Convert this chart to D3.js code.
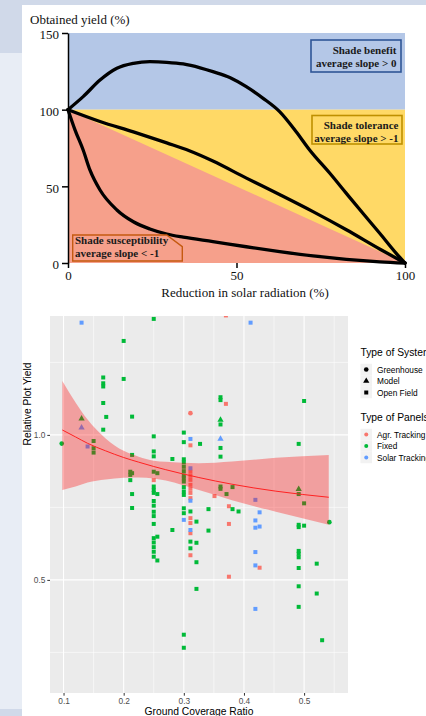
<!DOCTYPE html>
<html>
<head>
<meta charset="utf-8">
<script src="https://cdn.jsdelivr.net/npm/d3@7"></script>
<style>
  body { margin: 0; background: #fff; }
  svg { display: block; }
</style>
</head>
<body>
<script>
// ---- top figure: yield vs. reduction in solar radiation ----
var yTicksTop = [0, 50, 100, 150];
var xTicksTop = [0, 50, 100];
var bandLimits = [0, 100, 150];          // yellow 0-100, blue 100-150
var redTriangle = [[0, 100], [100, 0], [0, 0]];

var benefitX = [0, 4.5, 9.5, 14.5, 19.4, 24.3, 29.3, 34.2, 39.2, 43, 48, 52.9, 57.9, 62.8, 67.7, 71.7, 77.7, 82.6, 87.5, 92.5, 97.4, 100];
var benefitY = [100, 108.5, 119.3, 127, 130.2, 131.3, 130.9, 129.8, 127.3, 124.8, 121, 115, 107.4, 98.7, 85.6, 73.7, 58.5, 45.4, 32.4, 19.4, 6.3, 0];
var toleranceX = [0, 9.5, 19.4, 29.3, 36, 43, 52.8, 62.9, 72.7, 82.6, 92.6, 100];
var toleranceY = [100, 92.3, 85.5, 78.3, 73.2, 66.5, 55.5, 44.5, 33.5, 21.7, 9, 0];
var suscepX = [0, 2.1, 4.5, 6.5, 9.5, 14.5, 19.4, 24.3, 29.3, 34.2, 43, 52.9, 62.8, 72.7, 82.6, 92.5, 100];
var suscepY = [100, 86.7, 73.7, 60.7, 47.6, 34.6, 26.9, 22.2, 18.9, 16.8, 13.9, 10.6, 7.4, 4.6, 2.4, 0.8, 0];

// ---- bottom figure: relative plot yield vs ground coverage ratio ----
var xTicksGcr = [0.1, 0.2, 0.3, 0.4, 0.5];
var yTicksYield = [0.5, 1.0];
var systemTypes = ["Greenhouse", "Model", "Open Field"];
var panelTypes = ["Agr. Tracking", "Fixed", "Solar Tracking"];
var panelColors = ["#F8766D", "#00BA38", "#619CFF"];

// [ground coverage ratio, relative yield, system (G/M/O)]
var agrPts = [[0.311,1.075,"G"],[0.370,1.412,"O"],[0.370,1.107,"O"],[0.311,0.964,"O"],[0.250,0.844,"O"],
  [0.311,0.873,"O"],[0.311,0.859,"O"],[0.311,0.845,"O"],[0.311,0.828,"O"],[0.311,0.814,"O"],[0.311,0.800,"O"],
  [0.311,0.782,"O"],[0.351,0.789,"O"],[0.375,0.754,"O"],[0.311,0.713,"O"],[0.311,0.696,"O"],[0.375,0.693,"O"],
  [0.311,0.661,"O"],[0.311,0.585,"O"],[0.426,0.542,"O"],[0.375,0.511,"O"]];
var fixedPts = [[0.097,0.970,"G"],[0.130,1.056,"M"],[0.150,0.979,"O"],[0.150,0.954,"O"],[0.150,0.939,"O"],
  [0.166,1.198,"O"],[0.166,1.178,"O"],[0.166,1.167,"O"],[0.166,1.110,"O"],[0.171,1.062,"O"],[0.166,1.018,"O"],
  [0.200,1.324,"O"],[0.200,1.193,"O"],[0.214,1.063,"O"],[0.214,0.931,"O"],[0.211,0.873,"O"],[0.211,0.862,"O"],
  [0.214,0.868,"O"],[0.211,0.844,"O"],[0.214,0.796,"O"],[0.214,0.748,"O"],[0.250,1.400,"O"],[0.250,0.995,"O"],
  [0.250,0.943,"O"],[0.250,0.926,"O"],[0.281,0.917,"O"],[0.250,0.873,"O"],[0.256,0.868,"O"],[0.250,0.822,"O"],
  [0.250,0.810,"O"],[0.250,0.800,"O"],[0.256,0.796,"O"],[0.250,0.772,"O"],[0.250,0.756,"O"],[0.250,0.735,"O"],
  [0.250,0.720,"O"],[0.250,0.693,"O"],[0.281,0.672,"O"],[0.250,0.644,"O"],[0.256,0.649,"O"],[0.250,0.629,"O"],
  [0.250,0.613,"O"],[0.250,0.597,"O"],[0.250,0.580,"O"],[0.256,0.567,"O"],[0.300,1.008,"O"],[0.300,0.975,"O"],
  [0.327,0.969,"O"],[0.300,0.916,"O"],[0.300,0.905,"O"],[0.300,0.890,"O"],[0.300,0.875,"O"],[0.300,0.860,"O"],
  [0.300,0.850,"O"],[0.300,0.839,"O"],[0.300,0.820,"O"],[0.300,0.805,"O"],[0.300,0.793,"O"],[0.300,0.747,"O"],
  [0.300,0.730,"O"],[0.311,0.736,"O"],[0.341,0.744,"O"],[0.321,0.701,"O"],[0.341,0.670,"O"],[0.311,0.632,"O"],
  [0.321,0.628,"O"],[0.311,0.609,"O"],[0.321,0.561,"O"],[0.321,0.469,"O"],[0.300,0.311,"O"],[0.300,0.266,"O"],
  [0.361,1.130,"O"],[0.361,1.120,"O"],[0.361,1.052,"M"],[0.361,1.036,"O"],[0.361,0.955,"O"],[0.361,0.925,"O"],
  [0.361,0.822,"O"],[0.361,0.814,"O"],[0.381,0.820,"O"],[0.371,0.796,"O"],[0.381,0.744,"O"],[0.391,0.736,"O"],
  [0.491,0.969,"O"],[0.500,1.117,"O"],[0.491,0.813,"M"],[0.491,0.796,"O"],[0.500,0.764,"O"],[0.491,0.690,"O"],
  [0.491,0.682,"O"],[0.500,0.687,"O"],[0.542,0.699,"G"],[0.491,0.600,"O"],[0.491,0.590,"O"],[0.491,0.578,"O"],
  [0.491,0.541,"O"],[0.521,0.556,"O"],[0.491,0.478,"O"],[0.521,0.453,"O"],[0.491,0.407,"O"],[0.530,0.292,"O"]];
var solarPts = [[0.130,1.387,"O"],[0.411,1.387,"O"],[0.130,1.025,"M"],[0.140,0.960,"O"],[0.311,0.986,"O"],
  [0.361,0.986,"M"],[0.311,0.885,"O"],[0.311,0.773,"O"],[0.419,0.776,"O"],[0.426,0.733,"O"],[0.300,0.707,"O"],
  [0.419,0.705,"O"],[0.311,0.672,"O"],[0.419,0.680,"O"],[0.426,0.684,"O"],[0.419,0.596,"O"],[0.419,0.550,"O"],
  [0.419,0.400,"O"]];

// fitted trend with confidence band
var smoothX  = [0.098, 0.12, 0.14, 0.17, 0.2, 0.225, 0.25, 0.27, 0.325, 0.38, 0.453, 0.541];
var smoothFit = [1.017, 0.993, 0.971, 0.945, 0.922, 0.906, 0.891, 0.88, 0.853, 0.83, 0.806, 0.785];
var smoothHi = [1.186, 1.112, 1.053, 0.988, 0.945, 0.925, 0.911, 0.907, 0.902, 0.908, 0.921, 0.931];
var smoothLo = [0.81, 0.822, 0.836, 0.846, 0.852, 0.853, 0.85, 0.843, 0.81, 0.775, 0.735, 0.69];

var W = 426, H = 716;
var svg = d3.select("body").append("svg").attr("width", W).attr("height", H);

// page background
svg.append("rect").attr("width", W).attr("height", H).attr("fill", "#e8edf5");
svg.append("rect").attr("width", W).attr("height", 5).attr("fill", "#d0d9e9");
svg.append("rect").attr("width", 22).attr("height", 53).attr("fill", "#d0d9e9");
svg.append("rect").attr("y", 709).attr("width", 22).attr("height", 7).attr("fill", "#d0d9e9");
svg.append("rect").attr("x", 22).attr("y", 5).attr("width", W - 22).attr("height", H - 5).attr("fill", "#fff");

// ================= top chart =================
var xTop = d3.scaleLinear().domain([0, 100]).range([68, 405]);
var yTop = d3.scaleLinear().domain([0, 150]).range([263, 33]);
var gt = svg.append("g");

gt.append("rect").attr("x", xTop(0)).attr("y", yTop(bandLimits[2]))
  .attr("width", xTop(100) - xTop(0)).attr("height", yTop(bandLimits[1]) - yTop(bandLimits[2]))
  .attr("fill", "#b4c7e7");
gt.append("rect").attr("x", xTop(0)).attr("y", yTop(bandLimits[1]))
  .attr("width", xTop(100) - xTop(0)).attr("height", yTop(bandLimits[0]) - yTop(bandLimits[1]))
  .attr("fill", "#ffd966");
gt.append("polygon")
  .attr("points", redTriangle.map(function(p) { return xTop(p[0]) + "," + yTop(p[1]); }).join(" "))
  .attr("fill", "#f6a08b");

var curveLine = d3.line()
  .x(function(d) { return xTop(d[0]); })
  .y(function(d) { return yTop(d[1]); })
  .curve(d3.curveMonotoneX);

[[benefitX, benefitY], [toleranceX, toleranceY], [suscepX, suscepY]].forEach(function(c) {
  var pts = c[0].map(function(x, i) { return [x, c[1][i]]; });
  gt.append("path").attr("d", curveLine(pts))
    .attr("fill", "none").attr("stroke", "#000").attr("stroke-width", 3.3)
    .attr("stroke-linecap", "round").attr("stroke-linejoin", "round");
});

// annotation boxes
function boxText(g, lines, x, y0, anchor) {
  lines.forEach(function(t, i) {
    g.append("text").attr("x", x).attr("y", y0 + i * 13)
      .attr("text-anchor", anchor)
      .style("font-family", "'Liberation Serif', 'Times New Roman', serif")
      .style("font-weight", "bold").style("font-size", "11px").style("fill", "#1a1a1a")
      .text(t);
  });
}
gt.append("rect").attr("x", 311).attr("y", 40).attr("width", 90).attr("height", 32)
  .attr("fill", "#b4c7e7").attr("stroke", "#2f5597").attr("stroke-width", 1.6);
boxText(gt, ["Shade benefit", "average slope > 0"], 396.5, 54, "end");

gt.append("rect").attr("x", 312).attr("y", 115.5).attr("width", 90).attr("height", 28.5)
  .attr("fill", "#ffd966").attr("stroke", "#bf9000").attr("stroke-width", 1.6);
boxText(gt, ["Shade tolerance", "average slope > -1"], 398.5, 128.5, "end");

gt.append("polygon")
  .attr("points", "72.7,235 166.7,235 182.3,246.7 182.3,261 72.7,261")
  .attr("fill", "#f6a08b").attr("stroke", "#c55a11").attr("stroke-width", 1.4);
boxText(gt, ["Shade susceptibility", "average slope < -1"], 75, 244, "start");

// axes
var serif = "'Liberation Serif', 'Times New Roman', serif";
var yAxTop = gt.append("g").attr("transform", "translate(" + xTop(0) + ",0)")
  .call(d3.axisLeft(yTop).tickValues(yTicksTop).tickSize(6).tickSizeOuter(0).tickPadding(3));
var xAxTop = gt.append("g").attr("transform", "translate(0," + yTop(0) + ")")
  .call(d3.axisBottom(xTop).tickValues(xTicksTop).tickSize(5).tickPadding(3));
xAxTop.select(".domain").remove();
[yAxTop, xAxTop].forEach(function(a) {
  a.selectAll("path, line").attr("stroke", "#000").attr("stroke-width", 1.5);
  a.selectAll("text").style("font-family", serif).style("font-size", "13px").attr("fill", "#111");
});
yAxTop.selectAll("text").attr("dy", "0.45em");

gt.append("text").attr("x", 30).attr("y", 24)
  .style("font-family", serif).style("font-size", "13px").style("fill", "#111")
  .text("Obtained yield (%)");
gt.append("text").attr("x", 245).attr("y", 297).attr("text-anchor", "middle")
  .style("font-family", serif).style("font-size", "13px").style("fill", "#111")
  .text("Reduction in solar radiation (%)");

// ================= bottom chart =================
var sans = "'Liberation Sans', Arial, sans-serif";
var xS = d3.scaleLinear().domain([0.0775, 0.573]).range([50, 348]);
var yS = d3.scaleLinear().domain([0.11, 1.41]).range([693, 316]);
var gb = svg.append("g");

gb.append("rect").attr("x", xS.range()[0]).attr("y", yS.range()[1])
  .attr("width", xS.range()[1] - xS.range()[0]).attr("height", yS.range()[0] - yS.range()[1])
  .attr("fill", "#EBEBEB");

svg.append("clipPath").attr("id", "panel").append("rect")
  .attr("x", xS.range()[0]).attr("y", yS.range()[1])
  .attr("width", xS.range()[1] - xS.range()[0]).attr("height", yS.range()[0] - yS.range()[1]);

// grid
var xMinor = xTicksGcr.map(function(d) { return d + 0.05; }).concat([0.05]).filter(function(d) { return d > xS.domain()[0] && d < xS.domain()[1]; });
var yMinor = [0.25, 0.75, 1.25];
var grid = gb.append("g");
grid.selectAll(".vmin").data(xMinor).enter().append("line")
  .attr("x1", xS).attr("x2", xS).attr("y1", yS.range()[0]).attr("y2", yS.range()[1])
  .attr("stroke", "#fff").attr("stroke-width", 0.55);
grid.selectAll(".hmin").data(yMinor).enter().append("line")
  .attr("y1", yS).attr("y2", yS).attr("x1", xS.range()[0]).attr("x2", xS.range()[1])
  .attr("stroke", "#fff").attr("stroke-width", 0.55);
grid.selectAll(".vmaj").data(xTicksGcr).enter().append("line")
  .attr("x1", xS).attr("x2", xS).attr("y1", yS.range()[0]).attr("y2", yS.range()[1])
  .attr("stroke", "#fff").attr("stroke-width", 1.1);
grid.selectAll(".hmaj").data(yTicksYield).enter().append("line")
  .attr("y1", yS).attr("y2", yS).attr("x1", xS.range()[0]).attr("x2", xS.range()[1])
  .attr("stroke", "#fff").attr("stroke-width", 1.1);

// points
var shapeOf = { G: d3.symbolCircle, M: d3.symbolTriangle, O: d3.symbolSquare };
var sizeOf = { G: 17, M: 17, O: 16 };
var pg = gb.append("g").attr("clip-path", "url(#panel)");
[agrPts, fixedPts, solarPts].forEach(function(series, si) {
  pg.selectAll(null).data(series).enter().append("path")
    .attr("transform", function(d) { return "translate(" + xS(d[0]) + "," + yS(d[1]) + ")"; })
    .attr("d", function(d) { return d3.symbol().type(shapeOf[d[2]]).size(sizeOf[d[2]])(); })
    .attr("fill", panelColors[si]);
});

// smooth band + line
var smooth = smoothX.map(function(x, i) { return { x: x, f: smoothFit[i], lo: smoothLo[i], hi: smoothHi[i] }; });
gb.append("path").datum(smooth)
  .attr("d", d3.area().x(function(d) { return xS(d.x); })
    .y0(function(d) { return yS(d.lo); }).y1(function(d) { return yS(d.hi); })
    .curve(d3.curveMonotoneX))
  .attr("fill", "red").attr("fill-opacity", 0.32);
gb.append("path").datum(smooth)
  .attr("d", d3.line().x(function(d) { return xS(d.x); }).y(function(d) { return yS(d.f); })
    .curve(d3.curveMonotoneX))
  .attr("fill", "none").attr("stroke", "#f22").attr("stroke-width", 1);

// axes
var xAxB = gb.append("g").attr("transform", "translate(0," + yS.range()[0] + ")")
  .call(d3.axisBottom(xS).tickValues(xTicksGcr).tickFormat(d3.format(".1f")).tickSize(2.7).tickPadding(2));
var yAxB = gb.append("g").attr("transform", "translate(" + xS.range()[0] + ",0)")
  .call(d3.axisLeft(yS).tickValues(yTicksYield).tickFormat(d3.format(".1f")).tickSize(2.7).tickPadding(2));
[xAxB, yAxB].forEach(function(a) {
  a.select(".domain").remove();
  a.selectAll("line").attr("stroke", "#333").attr("stroke-width", 1);
  a.selectAll("text").style("font-family", sans).style("font-size", "8.3px").attr("fill", "#4D4D4D");
});

gb.append("text").attr("x", 199).attr("y", 715).attr("text-anchor", "middle")
  .style("font-family", sans).style("font-size", "10.3px").style("fill", "#000")
  .text("Ground Coverage Ratio");
gb.append("text").attr("transform", "translate(31,404) rotate(-90)").attr("text-anchor", "middle")
  .style("font-family", sans).style("font-size", "10.3px").style("fill", "#000")
  .text("Relative Plot Yield");

// legends
var lg = gb.append("g");
function legendBlock(title, labels, ty, drawKey) {
  lg.append("text").attr("x", 360.5).attr("y", ty)
    .style("font-family", sans).style("font-size", "10.3px").style("fill", "#000").text(title);
  labels.forEach(function(lab, i) {
    var cy = ty + 13.5 + i * 11.5;
    lg.append("rect").attr("x", 360.5).attr("y", cy - 5.75).attr("width", 11.5).attr("height", 11.5)
      .attr("fill", "#F2F2F2");
    drawKey(i, 366.25, cy);
    lg.append("text").attr("x", 377).attr("y", cy + 3)
      .style("font-family", sans).style("font-size", "8.3px").style("fill", "#000").text(lab);
  });
}
var sysCodes = ["G", "M", "O"];
legendBlock("Type of System", systemTypes, 356, function(i, x, y) {
  lg.append("path").attr("transform", "translate(" + x + "," + y + ")")
    .attr("d", d3.symbol().type(shapeOf[sysCodes[i]]).size(sizeOf[sysCodes[i]])()).attr("fill", "#000");
});
legendBlock("Type of Panels", panelTypes, 421, function(i, x, y) {
  lg.append("circle").attr("cx", x).attr("cy", y).attr("r", 2).attr("fill", panelColors[i]);
});
</script>
</body>
</html>
